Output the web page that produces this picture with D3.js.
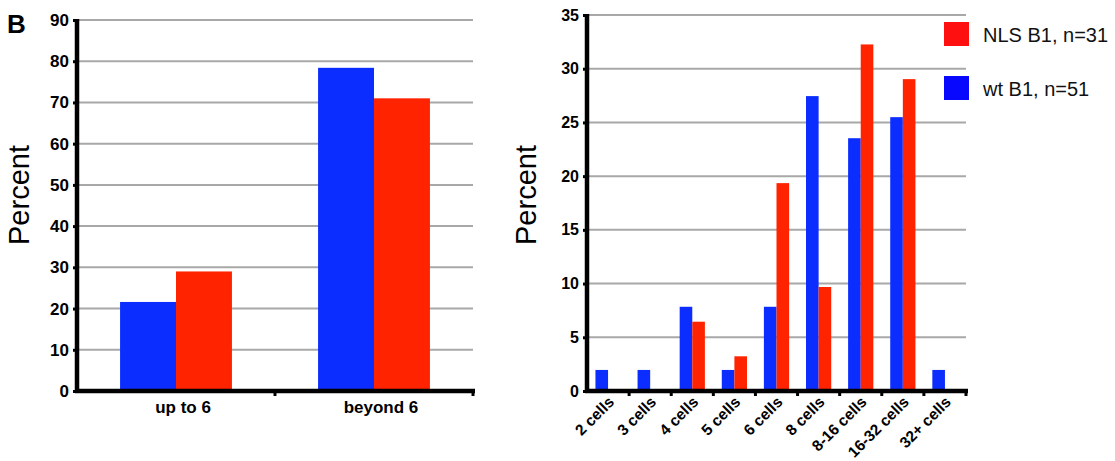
<!DOCTYPE html>
<html><head><meta charset="utf-8">
<script src="https://cdn.jsdelivr.net/npm/d3@7"></script>
<style>
html,body{margin:0;padding:0;background:#fff;}
svg text{font-family:"Liberation Sans",Arial,Helvetica,sans-serif;}
</style></head>
<body>
<svg id="c" width="1115" height="461"></svg>
<script>
// ---- data ----
const leftCategories = ["up to 6", "beyond 6"];
const leftWt  = [21.6, 78.4];
const leftNls = [29.0, 71.0];
const leftTicks = [0,10,20,30,40,50,60,70,80,90];

const rightCategories = ["2 cells","3 cells","4 cells","5 cells","6 cells","8 cells","8-16 cells","16-32 cells","32+ cells"];
const rightWt  = [1.96, 1.96, 7.84, 1.96, 7.84, 27.45, 23.53, 25.49, 1.96];
const rightNls = [0, 0, 6.45, 3.23, 19.35, 9.68, 32.26, 29.03, 0];
const rightTicks = [0,5,10,15,20,25,30,35];

const seriesNames = ["wt", "nls"];
const legendLabels = ["NLS B1, n=31", "wt B1, n=51"];

const barColor = {wt:"#0b2dff", nls:"#ff2300"};
const legendColor = {nls:"#ff1010", wt:"#0808ff"};
const gridColor = "#a8a8a8";

const svg = d3.select("#c");

function panel(opts){
  const {cats, wt, nls, ticks, xr, yr, ymax, po, tickFont, labelMode} = opts;
  const g = svg.append("g");
  const x = d3.scaleBand().domain(cats).range(xr).padding(0);
  const x1 = d3.scaleBand().domain(seriesNames).range([0, x.bandwidth()]).paddingInner(0).paddingOuter(po);
  const y = d3.scaleLinear().domain([0, ymax]).range(yr);

  // gridlines
  g.append("g").selectAll("line").data(ticks.filter(t=>t>0)).join("line")
    .attr("x1", xr[0]).attr("x2", xr[1])
    .attr("y1", d=>y(d)).attr("y2", d=>y(d))
    .attr("stroke", gridColor).attr("stroke-width", 2);

  // bars
  const rows = cats.map((c,i)=>({c, wt:wt[i], nls:nls[i]}));
  g.append("g").selectAll("g").data(rows).join("g")
    .attr("transform", d=>`translate(${x(d.c)},0)`)
    .selectAll("rect").data(d=>seriesNames.map(s=>({s, v:d[s]}))).join("rect")
    .attr("x", d=>x1(d.s)).attr("width", x1.bandwidth())
    .attr("y", d=>y(d.v)).attr("height", d=>y(0)-y(d.v))
    .attr("fill", d=>barColor[d.s]);

  // y axis
  const ya = d3.axisLeft(y).tickValues(ticks).tickSize(4).tickPadding(4).tickFormat(d3.format("d"));
  const yg = g.append("g").attr("transform", `translate(${xr[0]},0)`).call(ya);
  yg.attr("font-size", null);
  yg.select(".domain").remove();
  yg.selectAll(".tick line").attr("stroke","#000").attr("stroke-width",3);
  yg.selectAll(".tick text").attr("font-size", tickFont).attr("font-weight","bold").attr("fill","#000")
    .attr("font-family",'"Liberation Sans",Arial,Helvetica,sans-serif');
  g.append("line").attr("x1", xr[0]).attr("x2", xr[0]).attr("y1", yr[1]-1).attr("y2", yr[0]+2)
    .attr("stroke","#000").attr("stroke-width",4.5);

  // x axis
  g.append("line").attr("x1", xr[0]-2).attr("x2", xr[1]+2).attr("y1", y(0)).attr("y2", y(0))
    .attr("stroke","#000").attr("stroke-width",4.5);
  const bounds = cats.map(c=>x(c)+x.bandwidth());
  g.append("g").selectAll("line").data(bounds).join("line")
    .attr("x1", d=>d).attr("x2", d=>d).attr("y1", y(0)).attr("y2", y(0)+5)
    .attr("stroke","#000").attr("stroke-width",3);

  if(labelMode==="flat"){
    g.append("g").selectAll("text").data(cats).join("text")
      .attr("x", d=>x(d)+x.bandwidth()/2+7).attr("y", 413)
      .attr("text-anchor","middle").attr("font-size",17).attr("font-weight","bold").text(d=>d);
  } else {
    g.append("g").selectAll("text").data(cats).join("text")
      .attr("transform", d=>`translate(${x(d)+x.bandwidth()/2+7},${403}) rotate(-45)`)
      .attr("text-anchor","end").attr("font-size",15.5).attr("font-weight","bold").text(d=>d);
  }
  return {x, y};
}

panel({cats:leftCategories, wt:leftWt, nls:leftNls, ticks:leftTicks, xr:[77,473], yr:[391,20], ymax:90, po:0.77, tickFont:17, labelMode:"flat"});
panel({cats:rightCategories, wt:rightWt, nls:rightNls, ticks:rightTicks, xr:[587,966], yr:[391,15], ymax:35, po:0.67, tickFont:16, labelMode:"rot"});

// axis titles
svg.append("text").attr("transform","translate(29,195) rotate(-90)").attr("text-anchor","middle")
  .attr("font-size",29).text("Percent");
svg.append("text").attr("transform","translate(536,195) rotate(-90)").attr("text-anchor","middle")
  .attr("font-size",29).text("Percent");

// panel letter
svg.append("text").attr("x",7).attr("y",33).attr("font-size",26).attr("font-weight","bold").text("B");

// legend
const legKeys = ["nls","wt"];
const leg = svg.append("g");
legKeys.forEach((k,i)=>{
  const yy = 22 + i*54;
  leg.append("rect").attr("x",944).attr("y",yy).attr("width",25).attr("height",24).attr("fill",legendColor[k]);
  leg.append("text").attr("x",983).attr("y",yy+20).attr("font-size",20).attr("fill","#111").text(legendLabels[i]);
});
</script>
</body></html>
